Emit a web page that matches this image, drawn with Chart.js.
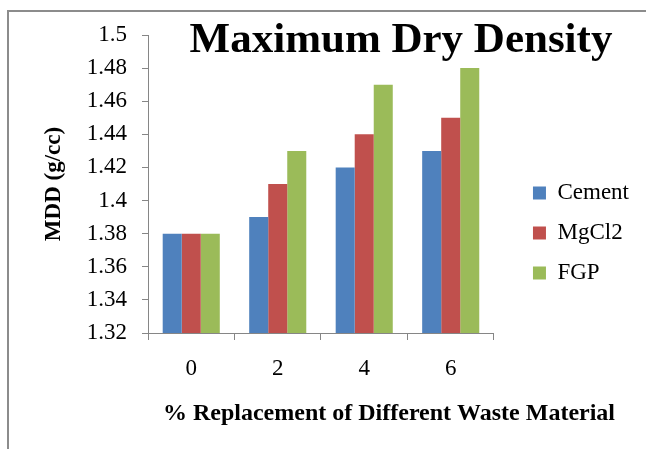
<!DOCTYPE html>
<html>
<head>
<meta charset="utf-8">
<script src="https://cdn.jsdelivr.net/npm/chart.js@4.4.0/dist/chart.umd.min.js"></script>
<style>
  body { margin: 0; background: #fff; }
  .frame { position: absolute; left: 7px; top: 10px; width: 700px; height: 500px; border: 2px solid #8c8c8c; }
  .wrap { position: absolute; left: 0; top: 0; width: 646px; height: 449px; }
</style>
</head>
<body>
<div class="frame"></div>
<div class="wrap"><canvas id="mdd" width="646" height="449"></canvas></div>
<script>
"use strict";

// data
const categories = ["0", "2", "4", "6"];
const cementValues = [1.38, 1.39, 1.42, 1.43];
const mgcl2Values = [1.38, 1.41, 1.44, 1.45];
const fgpValues = [1.38, 1.43, 1.47, 1.48];
const yMin = 1.32;
const yMax = 1.5;
const yStep = 0.02;

const serif = "'Liberation Serif', 'Times New Roman', serif";
const axisGray = "#868686";

// title + x axis title drawn by hand so they sit where excel put them
const extraText = {
  id: "extraText",
  afterDraw(chart) {
    const ctx = chart.ctx;
    ctx.save();
    ctx.fillStyle = "#000";
    ctx.textAlign = "center";
    ctx.textBaseline = "alphabetic";
    ctx.font = "bold 43px " + serif;
    ctx.fillText("Maximum Dry Density", 401, 52);
    ctx.font = "bold 24px " + serif;
    ctx.fillText("% Replacement of Different Waste Material", 389, 420);
    ctx.restore();
  }
};

const ctx = document.getElementById("mdd");

new Chart(ctx, {
  type: "bar",
  data: {
    labels: categories,
    datasets: [
      { label: "Cement", data: cementValues, backgroundColor: "#4F81BD" },
      { label: "MgCl2", data: mgcl2Values, backgroundColor: "#C0504D" },
      { label: "FGP", data: fgpValues, backgroundColor: "#9BBB59" }
    ]
  },
  options: {
    responsive: false,
    animation: false,
    devicePixelRatio: 1,
    datasets: {
      bar: { categoryPercentage: 0.66, barPercentage: 1.0 }
    },
    layout: { padding: { top: 35, bottom: 18, left: 20, right: 7 } },
    plugins: {
      title: { display: false },
      tooltip: { enabled: false },
      legend: {
        position: "right",
        maxWidth: 200,
        labels: {
          boxWidth: 13,
          boxHeight: 13,
          padding: 17,
          color: "#000",
          font: { family: serif, size: 23 }
        }
      }
    },
    scales: {
      x: {
        grid: { display: true, drawOnChartArea: false, tickLength: 7, color: axisGray, offset: true },
        border: { color: axisGray },
        ticks: { color: "#000", padding: 15, font: { family: serif, size: 23 } },
        afterFit: (scale) => { scale.height = 98; }
      },
      y: {
        min: yMin,
        max: yMax,
        grid: { display: true, drawOnChartArea: false, tickLength: 6, color: axisGray },
        border: { color: axisGray },
        ticks: {
          stepSize: yStep,
          color: "#000",
          padding: 15,
          font: { family: serif, size: 23 },
          callback: (v) => String(Number(v.toFixed(2)))
        },
        title: {
          display: true,
          text: "MDD (g/cc)",
          color: "#000",
          padding: { top: 20, bottom: 0 },
          font: { family: serif, size: 23, weight: "bold" }
        },
        afterFit: (scale) => { scale.width = 128; }
      },
      // empty spacer between plot and legend
      gap: {
        position: "right",
        display: true,
        grid: { display: false },
        border: { display: false },
        ticks: { display: false },
        afterFit: (scale) => { scale.width = 22; }
      }
    }
  },
  plugins: [extraText]
});
</script>
</body>
</html>
